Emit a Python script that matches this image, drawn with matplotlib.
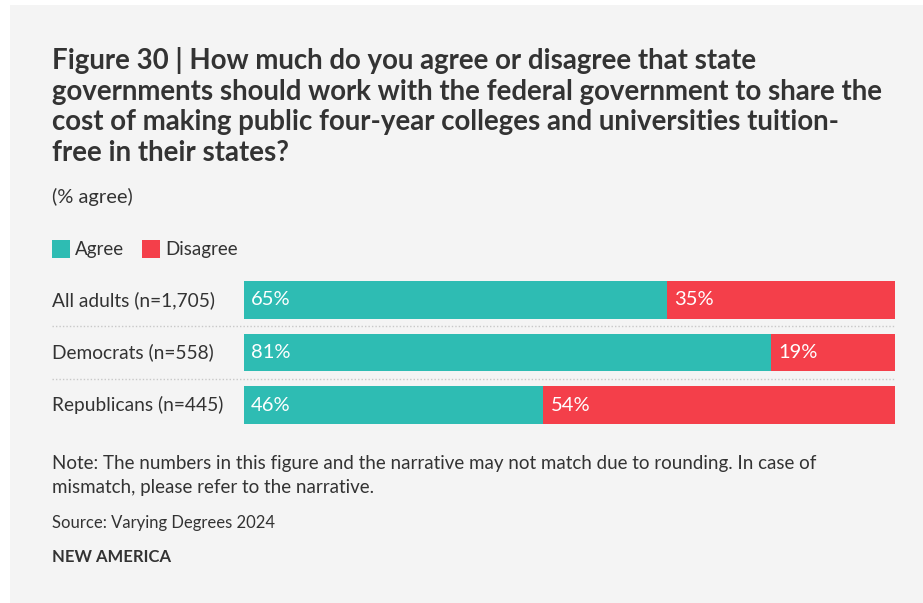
import matplotlib
matplotlib.use("Agg")
import matplotlib.pyplot as plt
from matplotlib.patches import Rectangle
from matplotlib.transforms import blended_transform_factory

groups = ["All adults (n=1,705)", "Democrats (n=558)", "Republicans (n=445)"]
agree = [65, 81, 46]
disagree = [35, 19, 54]
series_names = ["Agree", "Disagree"]

title_lines = [
    "Figure 30 | How much do you agree or disagree that state",
    "governments should work with the federal government to share the",
    "cost of making public four-year colleges and universities tuition-",
    "free in their states?",
]
subtitle = "(% agree)"
note_lines = [
    "Note: The numbers in this figure and the narrative may not match due to rounding. In case of",
    "mismatch, please refer to the narrative.",
]
source = "Source: Varying Degrees 2024"
brand = "NEW AMERICA"

TEAL = "#2ebcb3"
RED = "#f43f4a"
INK = "#333333"
PANEL = "#f4f4f4"

plt.rcParams["font.family"] = ["Lato", "DejaVu Sans"]

W, H = 923, 603
fig = plt.figure(figsize=(W / 100, H / 100), dpi=100)
fig.patch.set_facecolor("white")

def fx(px):
    return px / W

def fy(py):
    return 1 - py / H

# grey card behind everything
fig.add_artist(Rectangle((fx(10), 0), 1 - fx(10), fy(5), transform=fig.transFigure,
                         facecolor=PANEL, edgecolor="none", zorder=0))

for i, line in enumerate(title_lines):
    fig.text(fx(52), fy(61 + i * 30.7), line, fontsize=19.9, fontweight="bold",
             color=INK, va="center", ha="left")

fig.text(fx(52), fy(197), subtitle, fontsize=14.5, color=INK, va="center")

# legend
for (x0, name, col) in [(52, series_names[0], TEAL), (142, series_names[1], RED)]:
    fig.add_artist(Rectangle((fx(x0), fy(258)), fx(18), 18 / H, transform=fig.transFigure,
                             facecolor=col, edgecolor="none"))
    fig.text(fx(x0 + 23), fy(249), name, fontsize=13.5, color=INK, va="center")

# bars
top, bottom = 273.5, 431.5
ax = fig.add_axes([fx(244), fy(bottom), fx(895) - fx(244), (bottom - top) / H])
ax.set_facecolor("none")
y = list(range(len(groups)))
ax.barh(y, agree, height=38 / 53, color=TEAL, edgecolor="none")
ax.barh(y, disagree, left=agree, height=38 / 53, color=RED, edgecolor="none")
ax.set_xlim(0, 100)
ax.set_ylim(len(groups) - 0.5, -0.5)
ax.axis("off")

blend = blended_transform_factory(fig.transFigure, ax.transData)
for i in y:
    ax.text(1.1, i, f"{agree[i]}%", color="white", fontsize=14.5, va="center", ha="left")
    ax.text(agree[i] + 1.1, i, f"{disagree[i]}%", color="white", fontsize=14.5,
            va="center", ha="left")
    ax.text(fx(52), i, groups[i], fontsize=13.8, color=INK, va="center", ha="left",
            transform=blend, clip_on=False)

# dotted separators between rows
for i in y[:-1]:
    ax.plot([fx(52), fx(895)], [i + 0.5, i + 0.5], transform=blend, color="#c8c8c8",
            linestyle=(0, (1, 1.5)), linewidth=1, clip_on=False)

for i, line in enumerate(note_lines):
    fig.text(fx(52), fy(463 + i * 24.5), line, fontsize=13.5, color=INK, va="center")
fig.text(fx(52), fy(523), source, fontsize=12, color=INK, va="center")
fig.text(fx(52), fy(557), brand, fontsize=12, fontweight="bold", color=INK, va="center")

fig.savefig("out.png", dpi=100, facecolor=fig.get_facecolor())
